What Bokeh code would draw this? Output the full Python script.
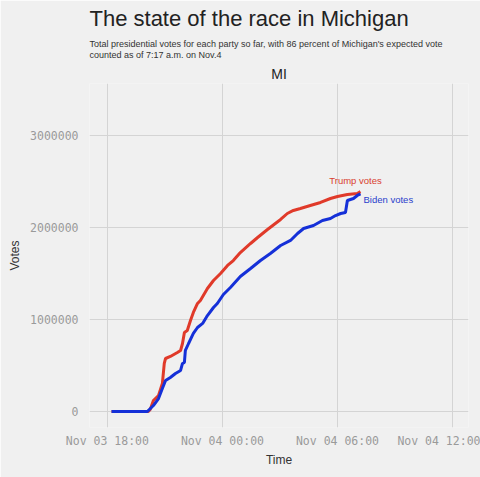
import pandas as pd
from bokeh.plotting import figure
from bokeh.models import (Title, Label, FixedTicker, DatetimeTickFormatter,
                          BasicTickFormatter, Range1d)
from bokeh.embed import file_html
from bokeh.resources import INLINE

# ---- data ----
trump_times = [
    "2020-11-03 18:13", "2020-11-03 20:08", "2020-11-03 20:14", "2020-11-03 20:24",
    "2020-11-03 20:40", "2020-11-03 20:52", "2020-11-03 20:58", "2020-11-03 21:02",
    "2020-11-03 21:17", "2020-11-03 21:39", "2020-11-03 21:49", "2020-11-03 21:55",
    "2020-11-03 22:01", "2020-11-03 22:10", "2020-11-03 22:20", "2020-11-03 22:29",
    "2020-11-03 22:42", "2020-11-03 22:51", "2020-11-03 23:13", "2020-11-03 23:32",
    "2020-11-03 23:54", "2020-11-04 00:16", "2020-11-04 00:34", "2020-11-04 00:56",
    "2020-11-04 01:28", "2020-11-04 01:50", "2020-11-04 02:21", "2020-11-04 03:02",
    "2020-11-04 03:23", "2020-11-04 03:42", "2020-11-04 04:04", "2020-11-04 04:35",
    "2020-11-04 05:07", "2020-11-04 05:38", "2020-11-04 06:00", "2020-11-04 06:31",
    "2020-11-04 07:02", "2020-11-04 07:12",
]
trump_votes = [
    0, 0, 22000, 120000,
    174000, 304000, 522000, 576000,
    598000, 641000, 663000, 739000,
    859000, 880000, 989000, 1076000,
    1174000, 1207000, 1337000, 1424000,
    1500000, 1587000, 1641000, 1728000,
    1826000, 1891000, 1978000, 2087000,
    2152000, 2185000, 2207000, 2239000,
    2272000, 2315000, 2337000, 2359000,
    2370000, 2390000,
]

biden_times = [
    "2020-11-03 18:13", "2020-11-03 20:05", "2020-11-03 20:24", "2020-11-03 20:40",
    "2020-11-03 20:52", "2020-11-03 21:02", "2020-11-03 21:17", "2020-11-03 21:33",
    "2020-11-03 21:49", "2020-11-03 21:55", "2020-11-03 22:01", "2020-11-03 22:04",
    "2020-11-03 22:14", "2020-11-03 22:29", "2020-11-03 22:42", "2020-11-03 22:58",
    "2020-11-03 23:13", "2020-11-03 23:32", "2020-11-03 23:44", "2020-11-04 00:03",
    "2020-11-04 00:25", "2020-11-04 00:56", "2020-11-04 01:28", "2020-11-04 01:59",
    "2020-11-04 02:30", "2020-11-04 03:02", "2020-11-04 03:33", "2020-11-04 03:55",
    "2020-11-04 04:14", "2020-11-04 04:45", "2020-11-04 05:13", "2020-11-04 05:38",
    "2020-11-04 05:54", "2020-11-04 06:10", "2020-11-04 06:25", "2020-11-04 06:31",
    "2020-11-04 06:50", "2020-11-04 07:02", "2020-11-04 07:12",
]
biden_votes = [
    0, 0, 65000, 141000,
    250000, 337000, 370000, 413000,
    446000, 522000, 533000, 663000,
    739000, 848000, 913000, 957000,
    1043000, 1130000, 1174000, 1272000,
    1348000, 1467000, 1554000, 1641000,
    1717000, 1804000, 1859000, 1935000,
    1989000, 2022000, 2076000, 2098000,
    2130000, 2152000, 2163000, 2293000,
    2315000, 2348000, 2365000,
]

x_ticks = ["2020-11-03 18:00", "2020-11-04 00:00", "2020-11-04 06:00", "2020-11-04 12:00"]
y_ticks = [0, 1000000, 2000000, 3000000]

title_text = "The state of the race in Michigan"
subtitle_lines = [
    "Total presidential votes for each party so far, with 86 percent of Michigan's expected vote",
    "counted as of 7:17 a.m. on Nov.4",
]
facet_text = "MI"

# ---- build ----
BG = "#f0f0f0"
RED = "#e03a2a"
BLUE = "#1530d8"
MONO = "DejaVu Sans Mono"
SANS = "Liberation Sans"

t_tr = pd.to_datetime(trump_times)
t_bi = pd.to_datetime(biden_times)
tick_ms = [pd.Timestamp(t).value / 1e6 for t in x_ticks]

x_start = pd.Timestamp("2020-11-03 17:04").value / 1e6
x_end = pd.Timestamp("2020-11-04 12:50").value / 1e6

p = figure(width=480, height=477, x_axis_type="datetime",
           output_backend="svg", toolbar_location=None,
           x_range=Range1d(x_start, x_end), y_range=Range1d(-174000, 3565000),
           min_border_left=89, min_border_right=12, min_border_bottom=50,
           background_fill_color=BG, border_fill_color=BG, outline_line_color=None)

p.line(t_tr, trump_votes, line_color=RED, line_width=3)
p.line(t_bi, biden_votes, line_color=BLUE, line_width=3)

p.add_layout(Label(x=t_tr[-1], y=trump_votes[-1], text="Trump votes",
                   text_color="#d9402f", text_font=SANS, text_font_size="9.5px",
                   text_align="center", text_baseline="bottom", y_offset=6, x_offset=-5))
p.add_layout(Label(x=t_bi[-1], y=biden_votes[-1], text="Biden votes",
                   text_color="#2a40cc", text_font=SANS, text_font_size="9.5px",
                   text_align="left", text_baseline="middle", x_offset=3, y_offset=-6))

# axes
p.xaxis.ticker = FixedTicker(ticks=tick_ms)
p.xaxis.formatter = DatetimeTickFormatter(hours="%b %d %H:%M", days="%b %d %H:%M",
                                          hourmin="%b %d %H:%M")
p.yaxis.ticker = FixedTicker(ticks=y_ticks)
p.yaxis.formatter = BasicTickFormatter(use_scientific=False)
for ax in (p.xaxis[0], p.yaxis[0]):
    ax.axis_line_color = None
    ax.major_tick_line_color = None
    ax.minor_tick_line_color = None
    ax.major_label_text_font = MONO
    ax.major_label_text_font_size = "11.5px"
    ax.major_label_text_color = "#9a9a9a"
    ax.axis_label_text_font = SANS
    ax.axis_label_text_font_size = "12px"
    ax.axis_label_text_font_style = "normal"
    ax.axis_label_text_color = "#333333"
p.xaxis.axis_label = "Time"
p.yaxis.axis_label = "Votes"
p.xaxis.major_label_standoff = 0
p.yaxis.major_label_standoff = 5
p.xaxis.axis_label_standoff = 2
p.yaxis.axis_label_standoff = 5

p.xgrid.ticker = FixedTicker(ticks=tick_ms)
p.ygrid.ticker = FixedTicker(ticks=y_ticks)
p.grid.grid_line_color = "#d4d4d4"
p.grid.grid_line_width = 1

# titles (last added is top-most)
p.add_layout(Title(text=facet_text, align="center", text_font=SANS, text_font_size="14px",
                   text_font_style="normal", text_color="#222222", standoff=3), "above")
p.add_layout(Title(text="\n".join(subtitle_lines), align="left", text_font=SANS,
                   text_font_size="9px", text_line_height=1.1,
                   text_font_style="normal", text_color="#333333", standoff=5), "above")
p.add_layout(Title(text=title_text, align="left", text_font=SANS, text_font_size="22px",
                   text_font_style="normal", text_color="#222222", standoff=7), "above")

open("out.html", "w").write(file_html(p, INLINE))
